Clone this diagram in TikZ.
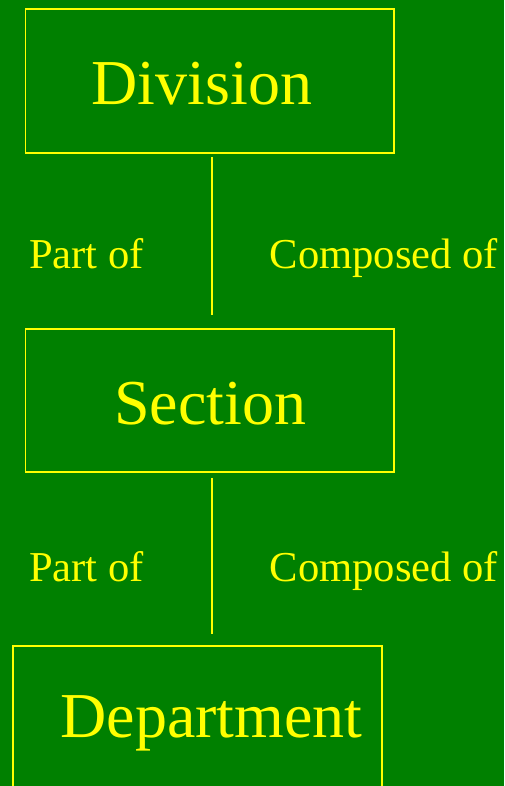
\documentclass[tikz,border=0pt]{standalone}
\usepackage{fontspec}
\setmainfont{Liberation Serif}
\definecolor{bg}{RGB}{0,128,0}
\definecolor{fg}{RGB}{255,255,0}
\begin{document}
\begin{tikzpicture}[x=1pt,y=-1pt,
  unitbox/.style={draw=fg,line width=1.6pt,rectangle,inner sep=0pt},
  title/.style={text=fg,font=\fontsize{64}{64}\selectfont,anchor=base,inner sep=0pt},
  rel/.style={text=fg,font=\fontsize{42.6}{42.6}\selectfont,anchor=base west,inner sep=0pt},
  link/.style={draw=fg,line width=1.6pt}]
\useasboundingbox (0,0) rectangle (504,786);
\fill[bg] (0,0) rectangle (504,786);
\clip (0,0) rectangle (504,786);
% unit boxes
\node[unitbox,minimum width=368.5pt,minimum height=144pt] (div) at (209.75,81) {};
\node[unitbox,minimum width=368.5pt,minimum height=143pt] (sec) at (209.75,400.5) {};
\node[unitbox,minimum width=369pt,minimum height=160pt] (dep) at (197.2,725.7) {};
% titles
\node[title] (tdiv) at (202,105) {Division};
\node[title] (tsec) at (210,424) {Section};
\node[title] (tdep) at (211.5,737) {Department};
% relation labels
\node[rel] (p1) at (29,268) {Part of};
\node[rel] (c1) at (269.5,268) {Composed of};
\node[rel] (p2) at (29,581) {Part of};
\node[rel] (c2) at (269.5,581) {Composed of};
% connectors
\draw[link,shorten <=3pt,shorten >=13.5pt] ([xshift=2pt]div.south) -- ([xshift=2pt]div.south |- sec.north);
\draw[link,shorten <=5pt,shorten >=11pt] ([xshift=2pt]sec.south) -- ([xshift=2pt]sec.south |- dep.north);
\end{tikzpicture}
\end{document}
